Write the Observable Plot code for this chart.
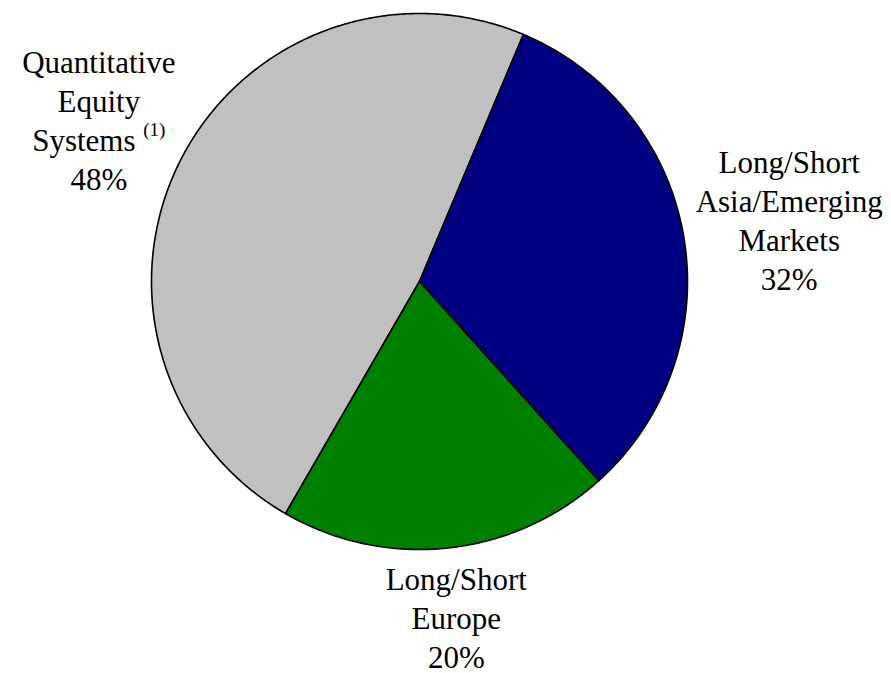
<!DOCTYPE html>
<html><head><meta charset="utf-8">
<script src="https://cdn.jsdelivr.net/npm/d3@7"></script>
<script src="https://cdn.jsdelivr.net/npm/@observablehq/plot@0.6"></script>
<style>body{margin:0;background:#fff} svg text{font-family:"Liberation Serif","Times New Roman","DejaVu Serif",serif}</style>
</head><body><div id="chart"></div>
<script>
const categories = ["Quantitative Equity Systems", "Long/Short Asia/Emerging Markets", "Long/Short Europe"];
const labelLines = [["Quantitative", "Equity", "Systems"], ["Long/Short", "Asia/Emerging", "Markets"], ["Long/Short", "Europe"]];
const footnotes = ["(1)", "", ""];
const shares = [48, 32, 20];
const colors = ["#c0c0c0", "#000080", "#008000"];

const W = 891, H = 673, CX = 419, CY = 281, R = 268;
const FS = 31, LH = 39, FN = 19;
const FONT_STACK = '"Liberation Serif", "Times New Roman", "DejaVu Serif", serif';
const startDeg = 210;

const data = categories.map((c, i) => ({cat: c, share: shares[i], color: colors[i], lines: labelLines[i], fn: footnotes[i]}));
const pie = d3.pie().sort(null).value(d => d.share)
  .startAngle(startDeg * Math.PI / 180).endAngle((startDeg + 360) * Math.PI / 180);
const arcs = pie(data);
const pt = (a, r) => ({x: r * Math.sin(a), y: -r * Math.cos(a)});
const ctx = document.createElement("canvas").getContext("2d");
function tw(s, size) { ctx.font = `${size}px ${FONT_STACK}`; return ctx.measureText(s).width; }

const sliceMarks = arcs.map(a => {
  const pts = [{x: 0, y: 0}];
  const n = Math.max(2, Math.ceil((a.endAngle - a.startAngle) / (Math.PI / 360)));
  for (let k = 0; k <= n; k++) pts.push(pt(a.startAngle + (a.endAngle - a.startAngle) * k / n, R));
  return Plot.line(pts, {x: "x", y: "y", fill: a.data.color, stroke: "black", strokeWidth: 1.6, curve: "linear-closed", strokeLinejoin: "round"});
});

const midRows = [], startRows = [], fnRows = [];
arcs.forEach(a => {
  const d = a.data, mid = (a.startAngle + a.endAngle) / 2;
  const lines = [...d.lines, d.share + "%"];
  const fnIdx = d.lines.length - 1;
  const widths = lines.map((l, i) => tw(l, FS) + (i === fnIdx && d.fn ? tw(" ", FS) + tw(d.fn, FN) : 0));
  const bw = Math.max(...widths), bh = lines.length * LH;
  const e = pt(mid, R * 1.05);
  const cx = e.x + Math.sin(mid) * bw / 2, cy = e.y - Math.cos(mid) * bh / 2;
  lines.forEach((l, i) => {
    const y = cy + (i - (lines.length - 1) / 2) * LH;
    if (i === fnIdx && d.fn) {
      const x0 = cx - widths[i] / 2;
      startRows.push({x: x0, y, text: l});
      fnRows.push({x: x0 + tw(l + " ", FS), y, text: d.fn});
    } else {
      midRows.push({x: cx, y, text: l});
    }
  });
});

const chart = Plot.plot({
  width: W, height: H, margin: 0,
  x: {domain: [-CX, W - CX], range: [0, W], axis: null},
  y: {domain: [-CY, H - CY], range: [0, H], axis: null},
  style: {fontFamily: FONT_STACK, background: "white"},
  marks: [
    ...sliceMarks,
    Plot.text(midRows, {x: "x", y: "y", text: "text", fontSize: FS, fontFamily: FONT_STACK, fill: "black", textAnchor: "middle", lineAnchor: "middle"}),
    Plot.text(startRows, {x: "x", y: "y", text: "text", fontSize: FS, fontFamily: FONT_STACK, fill: "black", textAnchor: "start", lineAnchor: "middle"}),
    Plot.text(fnRows, {x: "x", y: "y", text: "text", fontSize: FN, fontFamily: FONT_STACK, fill: "black", textAnchor: "start", lineAnchor: "middle", dy: -11})
  ]
});
document.getElementById("chart").appendChild(chart);
</script>
</body></html>
